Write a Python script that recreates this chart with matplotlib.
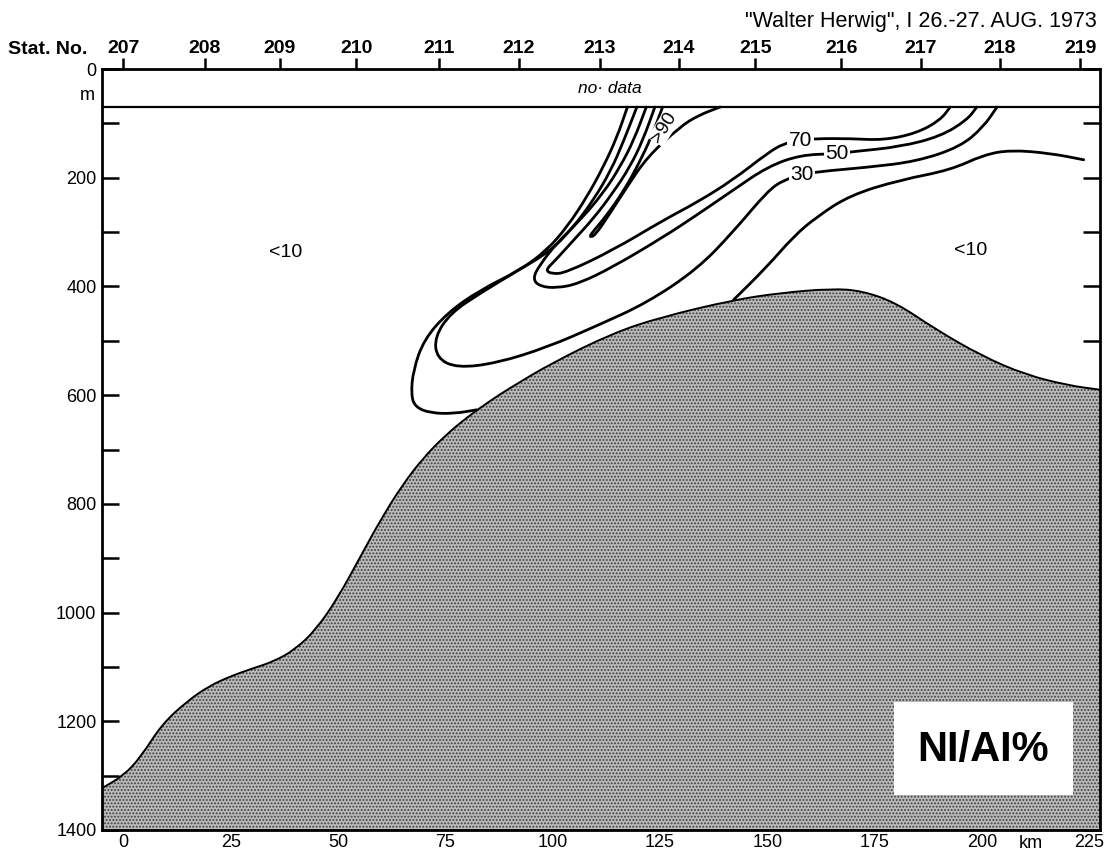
import matplotlib
matplotlib.use('Agg')
import matplotlib.pyplot as plt
from matplotlib.patches import Rectangle, PathPatch
from matplotlib.path import Path

plt.rcParams['font.family'] = ['Liberation Sans', 'DejaVu Sans']
plt.rcParams['hatch.linewidth'] = 0.9

# ---------------- data ----------------
stations = ['207', '208', '209', '210', '211', '212', '213', '214', '215', '216', '217', '218', '219']
station_km = [0.0, 18.9, 36.4, 54.2, 73.5, 92.1, 111.0, 129.4, 147.2, 167.2, 185.8, 204.2, 222.9]

km_ticks = [0, 25, 50, 75, 100, 125, 150, 175, 200, 225]
depth_major = [0, 200, 400, 600, 800, 1000, 1200, 1400]
depth_minor = [100, 300, 500, 700, 900, 1100, 1300]

# bottom topography (km, depth m)
bottom_km = [-5, 0, 4, 9, 15, 20, 25, 30, 35, 40, 45, 50, 55, 60, 65, 70, 75, 80, 85.5,
             90, 100, 114, 125, 142, 153, 165, 172, 180, 189, 200, 210, 220, 227.5]
bottom_depth = [1323, 1300, 1266, 1205, 1162, 1135, 1117, 1103, 1090, 1068, 1030, 972, 900, 828,
                765, 714, 674, 641, 610, 587, 540, 486, 457, 425, 412, 404, 408, 430, 478, 528,
                562, 582, 590]

no_data_depth = 70

# Ni/Al % isolines (km, depth)
c10_left_km = [117.4, 115.0, 111.8, 108.0, 103.4, 98.7, 92.4, 83.0, 75.4, 70.0, 67.5, 67.0, 68.0, 71.5, 77.0, 82.3]
c10_left_d = [70, 125, 180, 235, 290, 333, 370, 407, 449, 498, 554, 600, 622, 633, 634, 627]

c10_right_km = [223.7, 215.9, 206.6, 200.4, 192.6, 181.0, 169.3, 161.5, 156.1, 149.9, 142.1]
c10_right_d = [167, 155, 149, 158, 186, 204, 232, 272, 308, 364, 425]

c30_km = [119.6, 116.6, 113.6, 109.5, 104.9, 99.5, 91.0, 83.2, 76.2, 72.5, 73.0, 77.7, 87.0, 98.7,
          110.4, 122.0, 133.7, 142.0, 150.0, 153.8, 158.0, 161.5, 173.2, 184.8, 195.0, 200.4, 203.5]
c30_d = [70, 131, 186, 241, 290, 335, 375, 412, 449, 493, 532, 550, 541, 512,
         472, 430, 368, 300, 225, 204, 195, 189, 181, 170, 143, 106, 70]

c50_km = [121.8, 118.9, 115.7, 111.8, 106.4, 101.0, 97.0, 95.3, 97.0, 101.0, 106.0, 114.1, 125.8,
          133.7, 142.0, 150.0, 157.7, 166.0, 170.0, 181.0, 190.3, 196.5, 198.8]
c50_d = [70, 131, 180, 228, 278, 320, 360, 386, 400, 403, 395, 364, 309,
         268, 223, 180, 158, 156, 152, 143, 124, 94, 70]

c70_km = [123.8, 121.0, 118.0, 114.0, 109.5, 104.5, 100.5, 98.3, 99.8, 103.0, 114.1, 125.8, 133.7,
          142.0, 150.0, 153.8, 157.7, 161.5, 169.3, 177.1, 184.8, 190.3, 192.6]
c70_d = [70, 131, 180, 228, 275, 318, 353, 370, 377, 375, 333, 278, 245,
         204, 155, 137, 131, 128, 128, 131, 118, 94, 70]

c90_km = [125.6, 123.0, 120.0, 116.5, 112.5, 109.5, 108.5, 109.8, 113.4, 117.3, 122.0, 129.7, 134.0, 139.0]
c90_d = [70, 125, 175, 225, 270, 298, 309, 307, 265, 217, 162, 106, 85, 70]

isoline_labels = [('70', 157.7, 131, 0), ('50', 166.2, 156, 0), ('30', 158.0, 195, 0)]
region_labels = [('<10', 37.7, 337), ('<10', 197.3, 333)]


def smooth_path(xs, ys, close_bottom=None):
    """Quadratic-Bezier path using the read points as control points."""
    pts = list(zip(xs, ys))
    verts = [pts[0]]
    codes = [Path.MOVETO]
    mids = [((pts[i][0] + pts[i + 1][0]) / 2, (pts[i][1] + pts[i + 1][1]) / 2)
            for i in range(len(pts) - 1)]
    verts.append(mids[0])
    codes.append(Path.LINETO)
    for i in range(1, len(pts) - 1):
        verts += [pts[i], mids[i]]
        codes += [Path.CURVE3, Path.CURVE3]
    verts.append(pts[-1])
    codes.append(Path.LINETO)
    if close_bottom is not None:
        verts += [(xs[-1], close_bottom), (xs[0], close_bottom), pts[0]]
        codes += [Path.LINETO, Path.LINETO, Path.CLOSEPOLY]
    return Path(verts, codes)


# ---------------- figure ----------------
fig = plt.figure(figsize=(11.08, 8.58), dpi=100)
ax = fig.add_axes([102 / 1108, 1 - 830 / 858, 998 / 1108, 761 / 858])
ax.set_xlim(-5, 227.5)
ax.set_ylim(1400, 0)

# bottom
ax.add_patch(PathPatch(smooth_path(bottom_km, bottom_depth, close_bottom=1400),
                       facecolor='#bababa', edgecolor='#3c3c3c', hatch='.....', linewidth=0,
                       zorder=2))
ax.add_patch(PathPatch(smooth_path(bottom_km, bottom_depth), facecolor='none',
                       edgecolor='black', lw=1.4, zorder=3))

# no-data band
ax.axhline(no_data_depth, color='black', lw=1.6, zorder=4)
ax.text(113.4, 35, 'no· data', style='italic', fontsize=12.5, ha='center', va='center', zorder=5)

# isolines
for xs, ys in [(c10_left_km, c10_left_d), (c10_right_km, c10_right_d), (c30_km, c30_d),
               (c50_km, c50_d), (c70_km, c70_d), (c90_km, c90_d)]:
    ax.add_patch(PathPatch(smooth_path(xs, ys), facecolor='none', edgecolor='black', lw=2.0,
                           capstyle='round', zorder=4))

for txt, x, y, rot in isoline_labels:
    ax.text(x, y, txt, fontsize=15, ha='center', va='center', rotation=rot, zorder=6,
            bbox=dict(facecolor='white', edgecolor='none', pad=1.0))
ax.text(126.0, 108, '>90', fontsize=14, ha='center', va='center', rotation=58, zorder=6,
        bbox=dict(facecolor='white', edgecolor='none', pad=0.5))
for txt, x, y in region_labels:
    ax.text(x, y, txt, fontsize=14, ha='center', va='center', zorder=6)

# legend box
ax.add_patch(Rectangle((179.4, 1164), 41.9, 172, facecolor='white', edgecolor='none', zorder=5))
ax.text(200.3, 1252, 'NI/AI%', fontsize=30, fontweight='bold', ha='center', va='center',
        zorder=6)

# axes styling
for s in ax.spines.values():
    s.set_linewidth(2.0)
    s.set_zorder(7)
ax.set_yticks(depth_major)
ax.set_yticklabels([str(d) for d in depth_major])
ax.set_yticks(depth_minor, minor=True)
ax.set_xticks(km_ticks)
ax.set_xticklabels([str(k) for k in km_ticks])
ax.tick_params(axis='y', which='both', direction='in', length=12, width=1.8, labelsize=13,
               right=True, pad=4)
ax.tick_params(axis='x', which='major', direction='in', length=11, width=1.4, labelsize=13,
               pad=3, top=False)

sec = ax.secondary_xaxis('top')
sec.set_xticks(station_km, labels=stations, fontweight='bold')
sec.tick_params(direction='out', length=8, width=1.8, labelsize=14, pad=0.5)
sec.spines['top'].set_visible(False)

fig.text(8 / 1108, 1 - 50 / 858, 'Stat. No.', fontsize=14, fontweight='bold', ha='left',
         va='center')
fig.text(95 / 1108, 1 - 96 / 858, 'm', fontsize=13, ha='right', va='center')
fig.text(1097 / 1108, 1 - 22 / 858, '"Walter Herwig", I 26.-27. AUG. 1973', fontsize=15.5,
         ha='right', va='center')
fig.text(1031 / 1108, 1 - 844 / 858, 'km', fontsize=13, ha='center', va='center')

fig.savefig('out.png', dpi=100)
